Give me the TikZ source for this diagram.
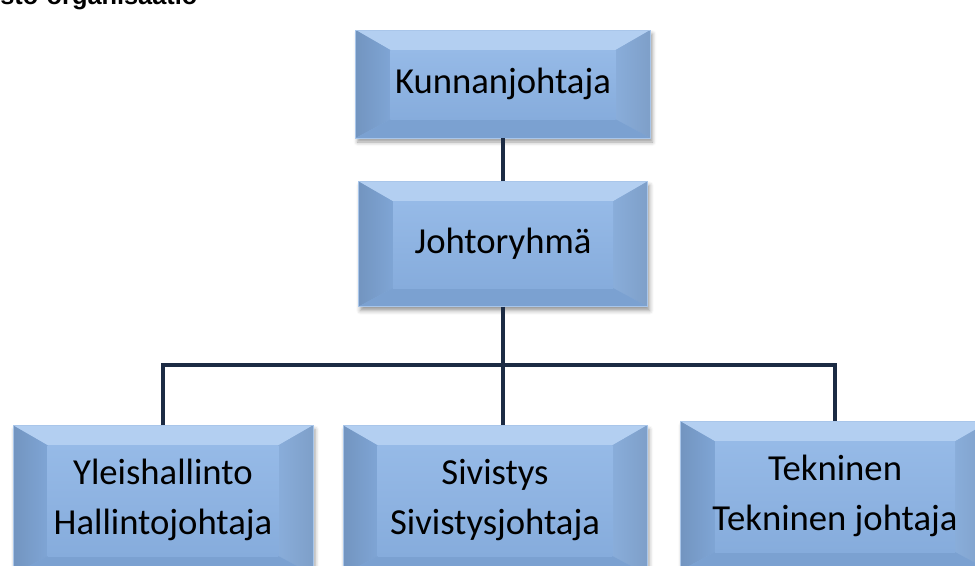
\documentclass[tikz,border=0pt]{standalone}
\usepackage{fontspec}
\newfontfamily\calibri{Carlito}
\newfontfamily\titlefont{Liberation Sans}
\usetikzlibrary{calc,shadows.blur}
\definecolor{facetop}{HTML}{96BAE7}
\definecolor{facebot}{HTML}{86ACDC}
\definecolor{bevtop}{HTML}{B3CFF1}
\definecolor{bevleft}{HTML}{7FA5D5}
\definecolor{bevright}{HTML}{89ADDA}
\definecolor{bevbot}{HTML}{7BA1D1}
\definecolor{edgecol}{HTML}{A9C6EA}
\definecolor{conncol}{HTML}{1C2B44}
\tikzset{
  bevelbox/.style={rectangle, draw=edgecol, line width=0.4pt, inner sep=0pt,
    align=center, font=\calibri\fontsize{27.5}{37}\selectfont,
    top color=facetop, bottom color=facebot,
    blur shadow={shadow xshift=1.5pt, shadow yshift=-3pt, shadow blur radius=3pt, shadow opacity=40},
    path picture={
      \path (path picture bounding box.north west) coordinate (pnw)
            (path picture bounding box.south east) coordinate (pse);
      \path (pnw -| pse) coordinate (pne) (pse -| pnw) coordinate (psw);
      \path ($(pnw)+(26pt,-15pt)$) coordinate (inw)
            ($(pne)+(-26pt,-15pt)$) coordinate (ine)
            ($(pse)+(-26pt,14pt)$) coordinate (ise)
            ($(psw)+(26pt,14pt)$) coordinate (isw);
      \fill[bevtop] (pnw) -- (pne) -- (ine) -- (inw) -- cycle;
      \shade[left color=bevleft!90!black, right color=bevleft] (pnw) -- (inw) -- (isw) -- (psw) -- cycle;
      \shade[left color=bevright, right color=bevright!92!black] (pne) -- (ine) -- (ise) -- (pse) -- cycle;
      \fill[bevbot] (psw) -- (isw) -- (ise) -- (pse) -- cycle;
      \shade[top color=facetop, bottom color=facebot] (inw) -- (ine) -- (ise) -- (isw) -- cycle;
    }},
  conn/.style={draw=conncol, line width=2.6pt}
}
\begin{document}
\begin{tikzpicture}[x=0.75pt,y=-0.75pt]
\useasboundingbox (0,0) rectangle (975,565);
\clip (0,0) rectangle (975,565);
\node[anchor=base west, inner sep=0pt, font=\titlefont\bfseries\fontsize{19}{20}\selectfont] (title) at (0,4) {sto-organisaatio};
\node[bevelbox, minimum width=221pt, minimum height=81pt] (k) at (503,84) {Kunnanjohtaja};
\node[bevelbox, minimum width=217pt, minimum height=94pt] (j) at (503,244) {Johtoryhmä};
\node[bevelbox, minimum width=225pt, minimum height=112pt] (y) at (163,500) {Yleishallinto\\Hallintojohtaja};
\node[bevelbox, minimum width=228pt, minimum height=112pt] (s) at (495,500) {Sivistys\\Sivistysjohtaja};
\node[bevelbox, minimum width=232pt, minimum height=112pt] (t) at (835,496) {Tekninen\\Tekninen johtaja};
\coordinate (bus) at (0,365);
\draw[conn] (k.south) -- (j.north);
\draw[conn] (j.south) -- (j.south |- s.north);
\draw[conn] (y.north) -- (y.north |- bus) -- (t.north |- bus) -- (t.north);
\end{tikzpicture}
\end{document}
